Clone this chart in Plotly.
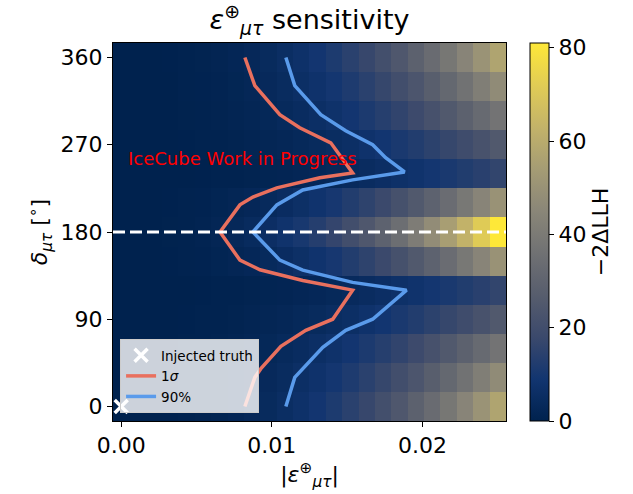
import numpy as np
import plotly.graph_objects as go

# ---- grid (bin centres) ----
eps_grid = np.linspace(0.0, 0.025, 24)          # |eps_mutau| bin centres
delta_grid = [0, 30, 60, 90, 120, 150, 180, 210, 240, 270, 300, 330, 360]

# ---- -2 dLLH values (rows = delta, cols = eps) ----
row_0   = [0, 0.0, 0.1, 0.2, 0.4, 0.8, 1.3, 2.1, 3.0, 4.1, 5.5, 7.2, 9.2, 11.5, 14.2, 17.2, 20.6, 24.5, 28.7, 33.4, 38.5, 44.2, 50.3, 57.0]
row_30  = [0, 0.0, 0.0, 0.1, 0.4, 0.7, 1.1, 1.7, 2.4, 3.4, 4.6, 6.0, 7.6, 9.5, 11.7, 14.2, 17.0, 20.2, 23.6, 27.5, 31.8, 36.4, 41.5, 47.0]
row_60  = [0, 0.0, 0.0, 0.1, 0.3, 0.5, 0.9, 1.3, 1.9, 2.7, 3.6, 4.7, 6.0, 7.5, 9.2, 11.2, 13.4, 15.9, 18.6, 21.7, 25.0, 28.7, 32.7, 37.0]
row_90  = [0, 0.0, 0.0, 0.1, 0.2, 0.4, 0.6, 0.9, 1.3, 1.8, 2.4, 3.2, 4.1, 5.1, 6.2, 7.6, 9.1, 10.7, 12.6, 14.7, 16.9, 19.4, 22.1, 25.0]
row_120 = [0, 0.0, 0.0, 0.0, 0.1, 0.2, 0.4, 0.6, 0.8, 1.2, 1.6, 2.0, 2.6, 3.2, 4.0, 4.8, 5.8, 6.9, 8.0, 9.4, 10.8, 12.4, 14.1, 16.0]
row_150 = [0, 0.0, 0.1, 0.2, 0.4, 0.7, 1.2, 1.8, 2.6, 3.6, 4.9, 6.4, 8.1, 10.1, 12.5, 15.1, 18.1, 21.5, 25.2, 29.3, 33.8, 38.8, 44.2, 50.0]
row_180 = [0, 0.0, 0.1, 0.3, 0.6, 1.1, 1.9, 2.9, 4.2, 5.8, 7.9, 10.3, 13.1, 16.4, 20.2, 24.5, 29.3, 34.7, 40.7, 47.5, 54.8, 62.8, 71.5, 81.0]
row_210 = [0, 0.0, 0.1, 0.2, 0.4, 0.7, 1.2, 1.8, 2.6, 3.6, 4.9, 6.4, 8.1, 10.1, 12.5, 15.1, 18.1, 21.5, 25.2, 29.3, 33.8, 38.8, 44.2, 50.0]
row_240 = [0, 0.0, 0.0, 0.0, 0.1, 0.2, 0.4, 0.6, 0.8, 1.2, 1.6, 2.0, 2.6, 3.2, 4.0, 4.8, 5.8, 6.9, 8.0, 9.4, 10.8, 12.4, 14.1, 16.0]
row_270 = [0, 0.0, 0.0, 0.1, 0.2, 0.4, 0.6, 0.9, 1.3, 1.8, 2.4, 3.2, 4.1, 5.1, 6.2, 7.6, 9.1, 10.7, 12.6, 14.7, 16.9, 19.4, 22.1, 25.0]
row_300 = [0, 0.0, 0.0, 0.1, 0.3, 0.5, 0.9, 1.3, 1.9, 2.7, 3.6, 4.7, 6.0, 7.5, 9.2, 11.2, 13.4, 15.9, 18.6, 21.7, 25.0, 28.7, 32.7, 37.0]
row_330 = [0, 0.0, 0.0, 0.1, 0.4, 0.7, 1.1, 1.7, 2.4, 3.4, 4.6, 6.0, 7.6, 9.5, 11.7, 14.2, 17.0, 20.2, 23.6, 27.5, 31.8, 36.4, 41.5, 47.0]
row_360 = [0, 0.0, 0.1, 0.2, 0.4, 0.8, 1.3, 2.1, 3.0, 4.1, 5.5, 7.2, 9.2, 11.5, 14.2, 17.2, 20.6, 24.5, 28.7, 33.4, 38.5, 44.2, 50.3, 57.0]
llh = [row_0, row_30, row_60, row_90, row_120, row_150, row_180,
       row_210, row_240, row_270, row_300, row_330, row_360]

# ---- contour paths ----
sigma1_eps   = [0.00821, 0.00887, 0.00927, 0.01060, 0.01225, 0.01404, 0.01536, 0.01205,
                0.00921, 0.00788, 0.00656, 0.00788, 0.00874, 0.01033, 0.01318, 0.01536,
                0.01391, 0.01185, 0.01053, 0.00887, 0.00821]
sigma1_delta = [0, 30, 39, 62, 78.6, 90, 120, 130,
                141, 151, 180, 208, 216, 225.5, 236, 241,
                272, 287.6, 301, 331, 360]

p90_eps   = [0.01093, 0.01152, 0.01338, 0.01490, 0.01669, 0.01781, 0.01894, 0.01536,
             0.01205, 0.01053, 0.00874, 0.01033, 0.01205, 0.01536, 0.01881, 0.01755,
             0.01669, 0.01490, 0.01325, 0.01152, 0.01093]
p90_delta = [0, 30, 61, 78.6, 90, 104.5, 120, 128,
             140.7, 151, 180, 208, 223.4, 233.8, 242, 256.6,
             270, 284.5, 301, 331, 360]

injected_eps = [0.0]
injected_delta = [0.0]
dashed_delta = 180

x_ticks = [0.0, 0.01, 0.02]
y_ticks = [0, 90, 180, 270, 360]
cbar_ticks = [0, 20, 40, 60, 80]

FONT = "DejaVu Sans"

fig = go.Figure()
fig.add_trace(go.Heatmap(
    x=eps_grid, y=delta_grid, z=llh, zmin=0, zmax=81,
    colorscale="Cividis", showscale=True, showlegend=False, hoverinfo="skip",
    colorbar=dict(
        x=1.061, xanchor="left", xpad=0, y=0.5, yanchor="middle", ypad=0,
        len=1, lenmode="fraction", thickness=19,
        outlinewidth=1, outlinecolor="black",
        tickvals=cbar_ticks, ticks="outside", ticklen=5, tickcolor="black",
        tickfont=dict(size=22, color="black", family=FONT),
        title=dict(text="−2ΔLLH", side="right", font=dict(size=22, color="black", family=FONT)),
    ),
))

fig.add_trace(go.Scatter(
    x=injected_eps, y=injected_delta, mode="markers", name="Injected truth",
    marker=dict(symbol="x-thin", size=13, color="white", line=dict(color="white", width=3.5)),
))
fig.add_trace(go.Scatter(
    x=sigma1_eps, y=sigma1_delta, mode="lines", name="1<i>σ</i>",
    line=dict(color="#E9705E", width=3.5),
))
fig.add_trace(go.Scatter(
    x=p90_eps, y=p90_delta, mode="lines", name="90%",
    line=dict(color="#5A9BEB", width=3.5),
))

fig.add_hline(y=dashed_delta, line=dict(color="white", width=3, dash="12px,5px"))

fig.add_annotation(
    x=0.00033, y=256, xref="x", yref="y", text="IceCube Work in Progress",
    showarrow=False, xanchor="left", yanchor="middle",
    font=dict(size=18, color="#FF0000", family=FONT),
)

axis_common = dict(
    showline=True, linecolor="black", linewidth=1, mirror=True,
    ticks="outside", ticklen=5, tickcolor="black",
    tickfont=dict(size=22, color="black", family=FONT),
    showgrid=False, zeroline=False,
)

fig.update_layout(
    width=633, height=494,
    margin=dict(l=113, r=127, t=43, b=73, autoexpand=False),
    paper_bgcolor="white", plot_bgcolor="white",
    font=dict(family=FONT, color="black"),
    title=dict(
        text="<i>ε</i><sup>⊕</sup><sub><i>μτ</i></sub> sensitivity",
        x=0.5, xref="paper", xanchor="center", y=0.96, yref="container", yanchor="middle",
        font=dict(size=27, color="black", family=FONT),
    ),
    xaxis=dict(
        range=[-0.000543, 0.02554], tickvals=x_ticks, tickformat=".2f",
        title=dict(text="|<i>ε</i><sup>⊕</sup><sub><i>μτ</i></sub>|", standoff=9,
                   font=dict(size=22, color="black", family=FONT)),
        **axis_common,
    ),
    yaxis=dict(
        range=[-15, 375], tickvals=y_ticks,
        title=dict(text="<i>δ</i><sub><i>μτ</i></sub> [<sup>∘</sup>]", standoff=6,
                   font=dict(size=22, color="black", family=FONT)),
        **axis_common,
    ),
    legend=dict(
        x=0.018, y=0.021, xanchor="left", yanchor="bottom",
        bgcolor="rgba(255,255,255,0.8)", bordercolor="#cccccc", borderwidth=1,
        font=dict(size=13.5, color="black", family=FONT),
        tracegroupgap=0, itemwidth=30,
    ),
)

fig.write_html("out.html", post_script="document.body.style.margin='0';",
               config={"displayModeBar": False})
